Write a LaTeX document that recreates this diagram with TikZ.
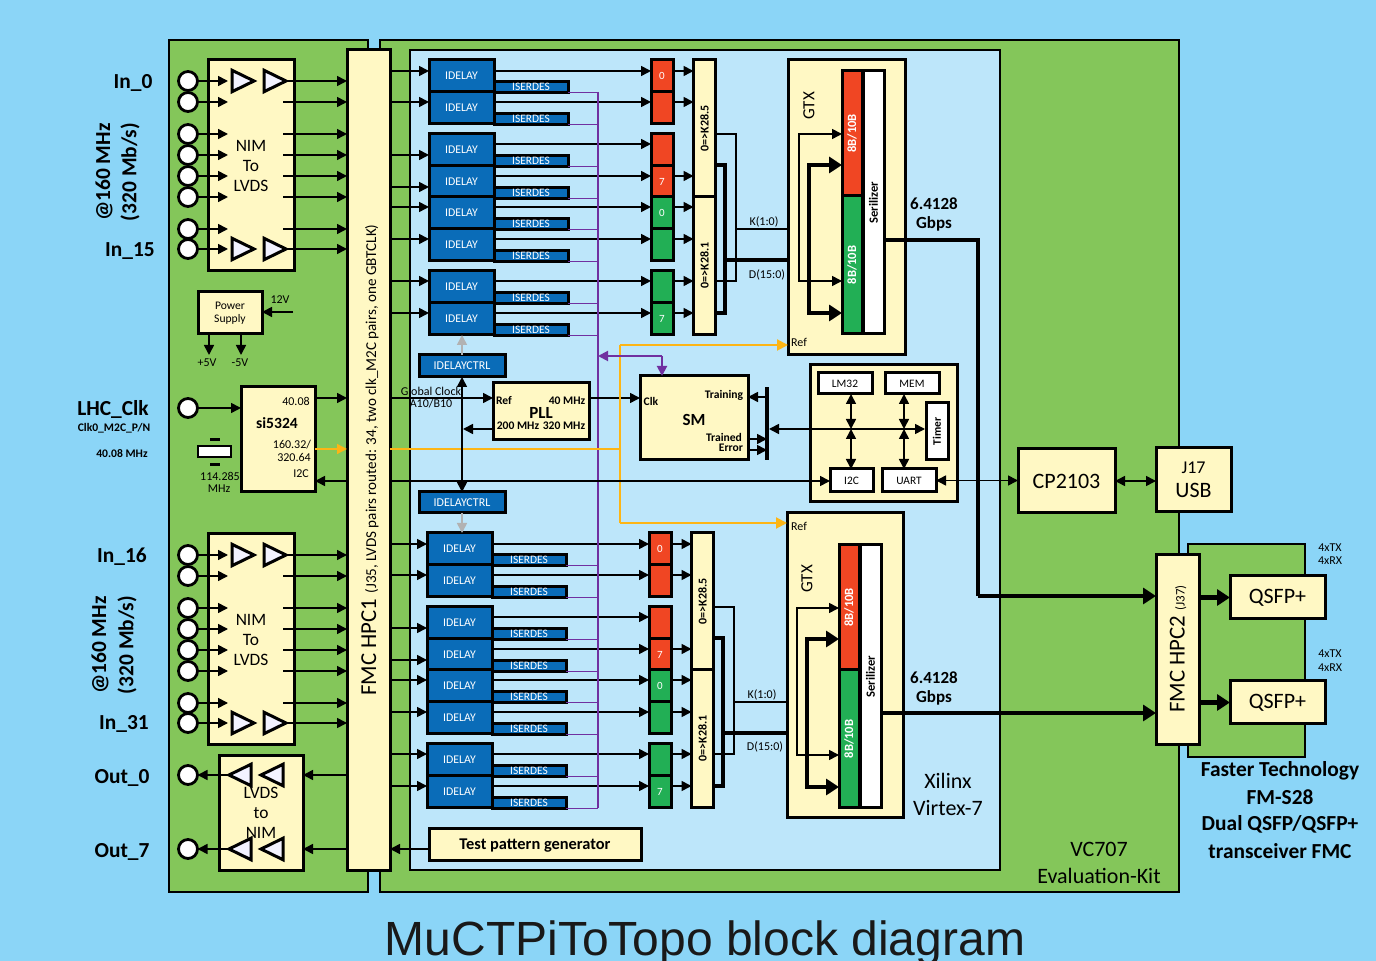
\documentclass[tikz,border=0pt]{standalone}
\usepackage{fontspec}
\setmainfont{Carlito}
\newfontfamily\titlefont{Liberation Sans}
\usetikzlibrary{arrows.meta,positioning,shapes.geometric}
\definecolor{skybg}{HTML}{8BD5F7}
\definecolor{boardgreen}{HTML}{84C65A}
\definecolor{fpgablue}{HTML}{BDE6FA}
\definecolor{cream}{HTML}{FFF8C4}
\definecolor{idblue}{HTML}{0A6CB8}
\definecolor{cellred}{HTML}{F04623}
\definecolor{cellgreen}{HTML}{22AF55}
\definecolor{orangeline}{HTML}{FDB515}
\definecolor{purpleline}{HTML}{7030A0}
\newcommand{\fsz}[1]{\fontsize{#1}{#1}\selectfont}
\tikzset{
	>={Triangle[length=5pt,width=5pt]},
	sz/.style 2 args={minimum width=#1*0.5pt,minimum height=#2*0.5pt},
	every node/.style={inner sep=0pt,outer sep=0pt},
	board/.style={draw=black,line width=1.25pt,fill=boardgreen},
	creambox/.style={draw=black,line width=1.5pt,fill=cream,align=center},
	whitebox/.style={draw=black,line width=1.5pt,fill=white},
	idbox/.style={draw=black,line width=1.5pt,fill=idblue,text=white,font=\fsz{5.9}},
	cell/.style={draw=black,line width=1.5pt,fill=#1,text=white,font=\fsz{5.5}},
	port/.style={circle,draw=black,line width=1.4pt,fill=white,minimum size=9.5pt},
	amp/.style={isosceles triangle,isosceles triangle apex angle=52,shape border rotate=#1,draw=black,line width=1.5pt,fill=white!95!blue,minimum height=11pt,anchor=apex},
	wire/.style={line width=0.8pt},
	fatwire/.style={line width=2.3pt,-{Triangle[length=6.5pt,width=8pt]}},
	fatline/.style={line width=2.3pt},
	lbl/.style={font=\fsz{6}},
	lblbold/.style={font=\fsz{5.8}\bfseries},
	lblin/.style={font=\fsz{10.7}\bfseries},
	lblbig/.style={font=\fsz{11}}
}
\begin{document}
\begin{tikzpicture}[x=0.5pt,y=-0.5pt]
	\useasboundingbox (0,0) rectangle (1376,961);
	\fill[skybg] (0,0) rectangle (1376,961);

	\node [board,sz={199}{852}] (leftboard) at (268.5,466) {};
	\node [board,sz={799}{852}] (rightboard) at (779.5,466) {};
	\node [board,sz={117}{213}] (fmboard) at (1246.5,650.5) {};
	\node [draw=black,line width=1pt,fill=fpgablue,sz={590}{820}] (fpga) at (705,460) {};
	\node [creambox,sz={43}{820}] (fmcone) at (368.5,460) {};
	\node [rotate=90] (fmconetext) at (370,460) {\fsz{11.4}FMC HPC1 {\fsz{7.55}(J35, LVDS pairs routed: 34, two clk\_M2C pairs, one GBTCLK)}};
	\node [creambox,sz={43}{190}] (fmctwo) at (1177.5,650) {};
	\node [rotate=90] (fmctwotext) at (1178,649) {\fsz{11.4}FMC HPC2 {\fsz{6.5}(J37)}};
	\node [creambox,sz={95}{43},font=\fsz{11}] (qsfpa) at (1277.5,597.5) {QSFP+};
	\node [creambox,sz={95}{43},font=\fsz{11}] (qsfpb) at (1277.5,702.5) {QSFP+};
	\draw [fatwire] (fmctwo.east |- qsfpa) -- (qsfpa);
	\draw [fatwire] (fmctwo.east |- qsfpb) -- (qsfpb);

	\foreach \s/\dy in {a/0,b/474}{
		\begin{scope}[shift={(0,\dy)}]
			\node [creambox,sz={86}{211},font=\fsz{8.7}] (nim\s) at (251,165.5) {NIM\\[1.3pt]To\\[1.3pt]LVDS};
			\foreach \i/\yc in {0/81,1/102,2/134,3/155,4/176,5/197,6/229,7/249}{
				\node [port] (in\s\i) at (188,\yc) {};
				\coordinate (nimin\s\i) at (228,\yc);
				\coordinate (nimout\s\i) at (283,\yc);
				\draw [wire,->] (in\s\i.east) -- (nimin\s\i);
				\draw [wire,->] (nimout\s\i) -- (fmcone.west |- nimout\s\i);
			}
			\foreach \i/\xc/\yc in {1/254/81,2/286/81,3/254/249,4/286/249}{
				\node [amp=0] (amp\s\i) at (\xc,\yc) {};
			}
		\end{scope}
	}

	\node [creambox,sz={84}{115},font=\fsz{8.7}] (outbox) at (261,813) {LVDS\\[1.3pt]to\\[1.3pt]NIM};
	\foreach \i/\yc in {0/775,7/849}{
		\node [port] (out\i) at (188,\yc) {};
		\coordinate (outin\i) at (230,\yc);
		\draw [wire,->] (fmcone.west |- out\i) -- (outbox.east |- out\i);
		\draw [wire,->] (outin\i) -- (out\i.east);
		\node [amp=180] (ampout\i) at (229,\yc) {};
		\node [amp=180] (ampoutb\i) at (261,\yc) {};
	}

	\node [creambox,sz={64}{42},font=\fsz{5.8}] (psu) at (230,313) {Power\\[0.5pt]Supply};
	\coordinate (twelve) at (293,312);
	\coordinate (pfive) at (209,355);
	\coordinate (mfive) at (241,355);
	\draw [wire,->] (twelve) -- (psu.east |- twelve);
	\draw [wire,->] (psu.south -| pfive) -- (pfive);
	\draw [wire,->] (psu.south -| mfive) -- (mfive);

	\node [port] (lhc) at (188,408) {};
	\node [creambox,sz={74}{105}] (si) at (278,439.5) {};
	\node [font=\fsz{7.8}\bfseries] (sitext) at (277,423) {si5324};
	\node [draw=black,line width=1pt,fill=white,sz={33}{11}] (xtal) at (214.5,451.5) {};
	\node [fill=black,sz={10}{3}] (xtala) at (214.5,440) {};
	\node [fill=black,sz={10}{3}] (xtalb) at (214.5,465) {};
	\draw [wire,->] (lhc.east) -- (si.west |- lhc);

	\coordinate (purbus) at (598,92);
	\foreach \s/\dx/\dy in {a/0/0,b/-2/473}{
		\begin{scope}[shift={(\dx,\dy)}]
			\foreach \n/\yd/\yi/\yo/\col/\lab in {
				1/76/71/71/cellred/0,
				2/108/102/102/cellred/{},
				3/150/155/144/cellred/{},
				4/182/187/176/cellred/7,
				5/213/207/207/cellgreen/0,
				6/245/239/239/cellgreen/{},
				7/287/281/281/cellgreen/{},
				8/319/313/313/cellgreen/7}{
				\node [idbox,sz={65}{32}] (id\s\n) at (461.5,\yd) {IDELAY};
				\node [idbox,sz={74}{11},font=\fsz{5.7}] (iser\s\n) at (531,\yd+11) {ISERDES};
				\node [cell=\col,sz={22}{32}] (cell\s\n) at (662,\yd) {\lab};
				\coordinate (idin\s\n) at (429,\yi);
				\coordinate (idout\s\n) at (651,\yo);
				\coordinate (idstart\s\n) at (494,\yo);
				\draw [line width=0.7pt,purpleline] (iser\s\n.south east) -- (iser\s\n.south east -| purbus);
				\draw [wire,->] (fmcone.east |- idin\s\n) -- (idin\s\n);
				\draw [wire,->] (idstart\s\n) -- (idout\s\n);
			}
			\node [creambox,rotate=90,font=\fsz{6}\bfseries,sz={137}{22}] (kfive\s) at (704.5,128.5) {0=>K28.5};
			\node [creambox,rotate=90,font=\fsz{6}\bfseries,sz={138}{22}] (kone\s) at (704.5,265.5) {0=>K28.1};
			\foreach \n in {1,2,4,5,6,7,8}{
				\draw [wire,->] (cell\s\n.east |- idout\s\n) -- (kfive\s.north |- idout\s\n);
			}
			\coordinate (kout\s) at (715,134);
			\coordinate (kret\s) at (715,281);
			\coordinate (kjoin\s) at (736,229);
			\coordinate (kbus\s) at (799,229);
			\coordinate (dout\s) at (715,165);
			\coordinate (dret\s) at (715,313);
			\coordinate (djoin\s) at (725,260);
			\coordinate (dbus\s) at (809,260);
			\draw [wire] (kout\s) -| (kjoin\s) |- (kret\s);
			\draw [wire] (kjoin\s) -- (kbus\s);
			\draw [fatline] (dout\s) -| (djoin\s) |- (dret\s);
			\draw [fatline] (djoin\s) -- (dbus\s);
		\end{scope}
	}

	\draw [line width=0.7pt,purpleline] (purbus) -- (purbus |- iserb8.south);

	\node [creambox,sz={117}{295}] (gtxa) at (846.5,207.5) {};
	\node [creambox,sz={116}{304}] (gtxb) at (845,665) {};
	\foreach \s/\gx/\gy/\bd in {a/0/0/106,b/-3/474/579}{
		\begin{scope}[shift={(\gx,\gy)}]
			\node [draw=black,line width=1.5pt,fill=cellred,text=white,font=\fsz{6.3}\bfseries,rotate=90,sz={125}{20}] (red\s) at (852,133.5) {8B/10B};
			\node [draw=black,line width=1.5pt,fill=cellgreen,text=white,font=\fsz{6.3}\bfseries,rotate=90,sz={138}{20}] (green\s) at (852,265) {8B/10B};
			\node [whitebox,font=\fsz{6.3}\bfseries,rotate=90,sz={263}{21}] (ser\s) at (873.5,202.5) {Serilizer};
			\coordinate (rk\s) at (842,134);
			\coordinate (gk\s) at (842,281);
			\coordinate (rd\s) at (842,165);
			\coordinate (gd\s) at (842,313);
		\end{scope}
		\draw [wire,->] (kbus\s) |- (rk\s);
		\draw [wire,->] (kbus\s) |- (gk\s);
		\draw [fatwire] (dbus\s) |- (rd\s);
		\draw [fatwire] (dbus\s) |- (gd\s);
		\node [rotate=90,font=\fsz{8.5}] (gtxtext\s) at (809+\gx*0.7,\bd) {GTX};
	}

	\coordinate (serouta) at (884,240);
	\coordinate (turna) at (978,596);
	\coordinate (seroutb) at (881,713);
	\draw [fatline] (serouta) -| (turna);
	\draw [fatwire] (turna) -- (fmctwo.west |- turna);
	\draw [fatwire] (seroutb) -- (fmctwo.west |- seroutb);

	\node [idbox,sz={86}{22},font=\fsz{6}] (ctrla) at (462,366) {IDELAYCTRL};
	\node [idbox,sz={86}{21},font=\fsz{6}] (ctrlb) at (462,502.5) {IDELAYCTRL};
	\node [creambox,sz={96}{57}] (pll) at (541,411.5) {};
	\node [creambox,sz={108}{84}] (sm) at (694,418) {};
	\node [fill=black,sz={4}{73}] (bar) at (767,423.5) {};
	\node [creambox,sz={147}{137}] (cpu) at (883.5,433.5) {};
	\node [whitebox,sz={54}{21},font=\fsz{5.7}] (lm) at (845,383.5) {LM32};
	\node [whitebox,sz={54}{21},font=\fsz{5.7}] (mem) at (912,383.5) {MEM};
	\node [whitebox,sz={22}{57}] (timer) at (937,431.5) {};
	\node [rotate=90,font=\fsz{5.7}\bfseries] (timertext) at (937,431.5) {Timer};
	\node [whitebox,sz={43}{23},font=\fsz{5.7}] (itc) at (851.5,480.5) {I2C};
	\node [whitebox,sz={54}{23},font=\fsz{5.7}] (uart) at (909,480.5) {UART};
	\node [creambox,sz={97}{64},font=\fsz{11}] (cp) at (1066.5,481) {CP2103};
	\node [creambox,sz={75}{64},font=\fsz{9}] (usb) at (1193.5,480) {J17\\[3pt]{\fsz{11}USB}};
	\node [creambox,sz={212}{32}] (testgen) at (535,844) {};
	\node [font=\fsz{8.2}\bfseries] (testtext) at (535,846) {Test pattern generator};

	\coordinate (clkline) at (390,398);
	\coordinate (orgline) at (620,449);
	\coordinate (refa) at (620,345);
	\coordinate (refb) at (620,523);
	\coordinate (itcline) at (390,481);
	\coordinate (pllback) at (463,429);
	\coordinate (purj) at (662,356);
	\coordinate (trainline) at (767,397);
	\coordinate (trainedline) at (767,439);
	\coordinate (errorline) at (767,450);
	\coordinate (timerline) at (925,429);
	\coordinate (busx) at (851,429);
	\coordinate (busy) at (904,429);
	\coordinate (testline) at (429,849);

	\draw [wire,->] (si.east |- clkline) -- (fmcone.west |- clkline);
	\draw [wire,->] (fmcone.east |- clkline) -- (pll.west |- clkline);
	\draw [wire,->] (pll.east |- clkline) -- (sm.west |- clkline);
	\draw [line width=0.6pt,orangeline,->] (si.east |- orgline) -- (fmcone.west |- orgline);
	\draw [line width=0.6pt,orangeline] (fmcone.east |- orgline) -- (orgline);
	\draw [line width=1pt,orangeline] (refa) -- (refb);
	\draw [line width=1pt,orangeline,-{Triangle[length=5.5pt,width=5.5pt]}] (refa) -- (gtxa.west |- refa);
	\draw [line width=1pt,orangeline,-{Triangle[length=5.5pt,width=5.5pt]}] (refb) -- (gtxb.west |- refb);
	\draw [wire,->] (fmcone.west |- itcline) -- (si.east |- itcline);
	\draw [wire,->] (fmcone.east |- itcline) -- (itc.west |- itcline);
	\draw [wire,<->] (ctrla.south) -- (ctrlb.north);
	\draw [wire,->] (pll.west |- pllback) -- (pllback);
	\draw [wire,black!30,->] (ctrla.north) -- (ctrla.north |- ida8.south);
	\draw [wire,black!30,->] (ctrlb.south) -- (ctrlb.south |- idb1.north);
	\draw [line width=1pt,purpleline,->] (purj) -- (purbus |- purj);
	\draw [line width=1pt,purpleline,->] (purj) -- (purj |- sm.north);
	\draw [wire,->] (bar.center |- trainline) -- (sm.east |- trainline);
	\draw [wire,->] (sm.east |- trainedline) -- (bar.center |- trainedline);
	\draw [wire,->] (sm.east |- errorline) -- (bar.center |- errorline);
	\draw [wire,<->] (bar.east |- timerline) -- (timerline);
	\draw [wire,<->] (lm.south -| busx) -- (busx);
	\draw [wire,<->] (busx) -- (itc.north -| busx);
	\draw [wire,<->] (mem.south -| busy) -- (busy);
	\draw [wire,<->] (busy) -- (uart.north -| busy);
	\draw [wire,<->] (uart.east) -- (cp.west |- uart.east);
	\draw [wire,<->] (cp.east) -- (usb.west |- cp.east);
	\draw [wire,->] (testline -| testgen.west) -- (testline -| fmcone.east);

	\foreach \n/\xc/\yc/\txt in {ina/133/83/In\_0,inb/130/251/In\_15,inc/122/557/In\_16,ind/124/724/In\_31,oua/122/778/Out\_0,oub/122/852/Out\_7,clk/113/409/LHC\_Clk}{
		\node [lblin] (lab\n) at (\xc,\yc) {\txt};
	}
	\foreach \n/\xc/\yc/\txt in {a/104/172/{@160 MHz},b/130/172/{(320 Mb/s)},c/100/645/{@160 MHz},d/127/645/{(320 Mb/s)}}{
		\node [lblin,rotate=90] (rate\n) at (\xc,\yc) {\txt};
	}
	\foreach \n/\xc/\yc/\txt in {a/114/428/{Clk0\_M2C\_P/N},b/122/454/{40.08 MHz}}{
		\node [lblbold] (clklab\n) at (\xc,\yc) {\txt};
	}
	\foreach \n/\xc/\yc/\txt in {
		a/280/300/12V,b/207/363/+5V,c/240/363/-5V,d/296/401/40.08,e/292/445/{160.32/},f/294/458/320.64,g/301/474/I2C,h/220/476/114.285,i/219/489/MHz,
		j/431/391/{Global Clock},k/431/404/{A10/B10},
		t/799/342/Ref,u/799/526/Ref,v/764/222/K(1:0),w/767/275/D(15:0),x/762/695/K(1:0),y/765/747/D(15:0),
		z/1330/548/4xTX,aa/1330/561/4xRX,ab/1330/654/4xTX,ac/1330/668/4xRX}{
		\node [lbl] (lab\n) at (\xc,\yc) {\txt};
	}
	\foreach \n/\xc/\yc/\txt in {l/504/401/Ref,m/567/401/{40 MHz},n/518/426/{200 MHz},o/564/426/{320 MHz},
		p/651/401/Clk,q/724/395/Training,r/724/437/Trained,s/731/448/Error}{
		\node [lblbold] (lab\n) at (\xc,\yc) {\txt};
	}
	\foreach \n/\xc/\yc/\txt in {a/541/413/PLL,b/694/420/SM,c/934/204/6.4128,d/934/224/Gbps,e/934/678/6.4128,f/934/698/Gbps}{
		\node [font=\fsz{8.5}\bfseries] (mid\n) at (\xc,\yc) {\txt};
	}
	\foreach \n/\xc/\yc/\txt in {a/948/781/Xilinx,b/948/808/Virtex-7,c/1099/849/VC707,d/1099/876/Evaluation-Kit}{
		\node [lblbig] (big\n) at (\xc,\yc) {\txt};
	}
	\foreach \n/\yc/\txt in {a/771/{Faster Technology},b/797/{FM-S28},c/824/{Dual QSFP/QSFP+},d/851/{transceiver FMC}}{
		\node [lblin] (fast\n) at (1280,\yc) {\txt};
	}
	\node [anchor=base,font=\titlefont\fsz{24},text=black!90] (title) at (705,955) {MuCTPiToTopo block diagram};
\end{tikzpicture}
\end{document}
